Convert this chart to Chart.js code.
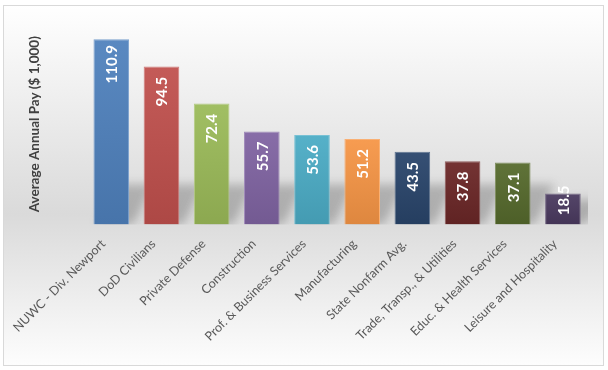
<!DOCTYPE html>
<html><head><meta charset="utf-8">
<script src="https://cdn.jsdelivr.net/npm/chart.js@4"></script>
<style>html,body{margin:0;padding:0;background:#fff}</style>
</head><body>
<canvas id="c" width="608" height="370" style="display:block;width:608px;height:370px"></canvas>
<script>
const categories = ['NUWC - Div. Newport','DoD Civilians','Private Defense','Construction','Prof. & Business Services','Manufacturing','State Nonfarm Avg.','Trade, Transp., & Utilities','Educ. & Health Services','Leisure and Hospitality'];
const pay = [110.9, 94.5, 72.4, 55.7, 53.6, 51.2, 43.5, 37.8, 37.1, 18.5];
const barColors = ['#4f81bd','#c0504d','#9bbb59','#8064a2','#4bacc6','#f79646','#29456b','#6b2727','#566a2c','#4a3a5f'];
const yTitle = 'Average Annual Pay ($ 1,000)';

function shade(hex, amt) {
  const n = parseInt(hex.slice(1), 16);
  let r = n >> 16, g = (n >> 8) & 255, b = n & 255;
  const t = amt < 0 ? 0 : 255, p = Math.abs(amt);
  r = Math.round(r + (t - r) * p); g = Math.round(g + (t - g) * p); b = Math.round(b + (t - b) * p);
  return `rgb(${r},${g},${b})`;
}

const bgPlugin = {
  id: 'bg',
  beforeDraw(chart) {
    const ctx = chart.ctx;
    ctx.save();
    ctx.fillStyle = '#ffffff';
    ctx.fillRect(0, 0, chart.width, chart.height);
    const g = ctx.createLinearGradient(0, 5, 0, 365);
    g.addColorStop(0, '#ffffff');
    g.addColorStop(0.58, '#dadada');
    g.addColorStop(1, '#fdfdfd');
    ctx.fillStyle = g;
    ctx.fillRect(3.5, 5.5, 600, 360);
    ctx.strokeStyle = '#d9d9d9';
    ctx.lineWidth = 1;
    ctx.strokeRect(3.5, 5.5, 600, 360);
    ctx.restore();
  },
  beforeDatasetsDraw(chart) {
    const ctx = chart.ctx;
    const meta = chart.getDatasetMeta(0);
    const a = chart.chartArea;
    ctx.save();
    ctx.beginPath();
    ctx.rect(a.left, a.top, a.right - a.left, a.bottom - a.top);
    ctx.clip();
    ctx.filter = 'blur(5px)';
    ctx.fillStyle = 'rgba(90,90,90,0.35)';
    meta.data.forEach(el => {
      const l = el.x - el.width / 2, r = el.x + el.width / 2, b = el.base;
      const h = Math.min(40, (b - el.y) * 0.8);
      ctx.beginPath();
      ctx.moveTo(l + 4, b);
      ctx.lineTo(r + 4, b);
      ctx.lineTo(r + 24, b - h);
      ctx.lineTo(l + 24, b - h);
      ctx.closePath();
      ctx.fill();
    });
    ctx.restore();
  }
};

const labelPlugin = {
  id: 'vals',
  afterDatasetsDraw(chart) {
    const ctx = chart.ctx;
    const meta = chart.getDatasetMeta(0);
    ctx.save();
    ctx.fillStyle = '#ffffff';
    ctx.font = 'bold 15px Lato';
    ctx.textAlign = 'center';
    ctx.textBaseline = 'middle';
    meta.data.forEach((el, i) => {
      const cy = Math.min(el.y + 25, el.base - 24);
      ctx.save();
      ctx.translate(el.x + 1, cy);
      ctx.rotate(-Math.PI / 2);
      ctx.fillText(pay[i].toFixed(1), 0, 0);
      ctx.restore();
    });
    ctx.restore();
  }
};

new Chart(document.getElementById('c'), {
  type: 'bar',
  data: {
    labels: categories,
    datasets: [{
      data: pay,
      backgroundColor: (c) => {
        const col = barColors[c.dataIndex];
        const ys = c.chart.scales.y;
        if (!ys || c.parsed == null) return col;
        const top = ys.getPixelForValue(c.parsed.y), bot = ys.getPixelForValue(0);
        if (!isFinite(top) || !isFinite(bot) || top === bot) return col;
        const g = c.chart.ctx.createLinearGradient(0, top, 0, bot);
        g.addColorStop(0, shade(col, 0.06));
        g.addColorStop(1, shade(col, -0.1));
        return g;
      },
      borderColor: barColors.map(c => shade(c, 0.25)),
      borderWidth: 1,
      barPercentage: 0.71,
      categoryPercentage: 1
    }]
  },
  options: {
    responsive: false,
    devicePixelRatio: 1,
    animation: false,
    layout: { padding: { left: 27, right: 20, top: 24, bottom: 22 } },
    plugins: { legend: { display: false }, tooltip: { enabled: false } },
    scales: {
      y: {
        min: 0, max: 120,
        ticks: { display: false },
        grid: { display: false },
        border: { display: false },
        title: { display: true, text: yTitle, color: '#404040', font: { family: 'Lato', size: 13.5, weight: 'bold' }, padding: { top: 0, bottom: 35 } }
      },
      x: {
        grid: { display: false },
        border: { display: false },
        ticks: { color: '#595959', font: { family: 'Lato', size: 12.5 }, minRotation: 45, maxRotation: 45, autoSkip: false, labelOffset: -8, padding: 4 }
      }
    }
  },
  plugins: [bgPlugin, labelPlugin]
});
</script>
</body></html>
